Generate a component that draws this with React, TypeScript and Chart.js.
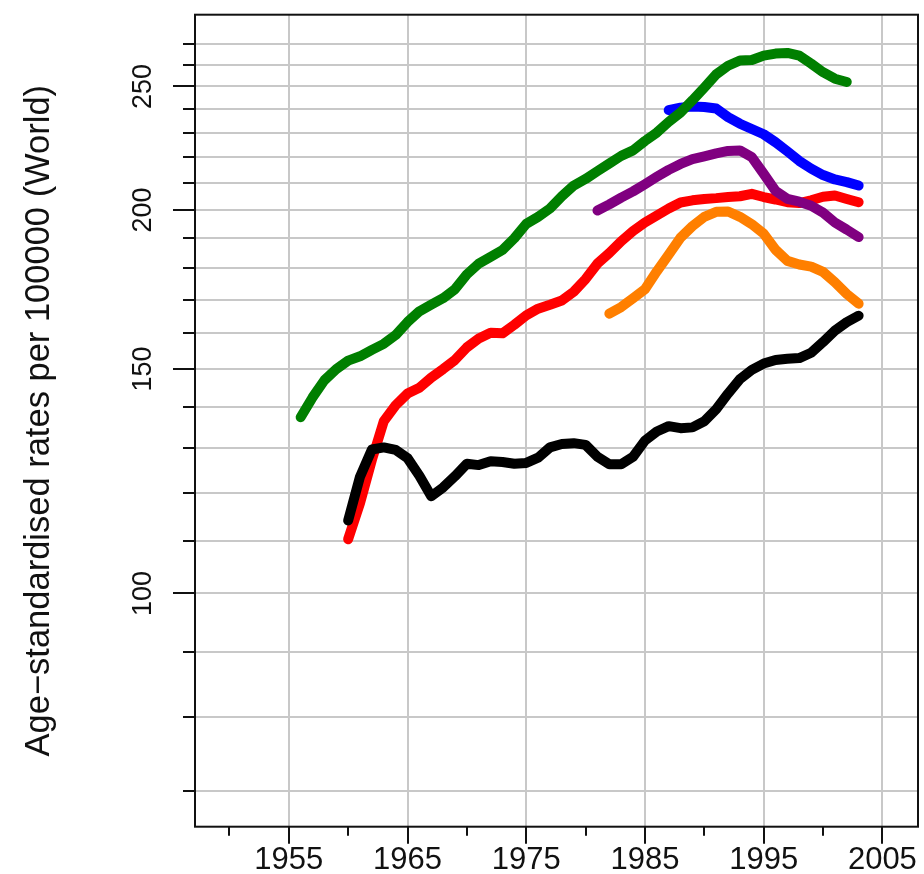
import { useEffect, useRef } from "react";
import { Chart, registerables } from "chart.js";

Chart.register(...registerables);

const years = [
  1956, 1957, 1958, 1959, 1960, 1961, 1962, 1963, 1964, 1965, 1966, 1967,
  1968, 1969, 1970, 1971, 1972, 1973, 1974, 1975, 1976, 1977, 1978, 1979,
  1980, 1981, 1982, 1983, 1984, 1985, 1986, 1987, 1988, 1989, 1990, 1991,
  1992, 1993, 1994, 1995, 1996, 1997, 1998, 1999, 2000, 2001, 2002, 2003,
];

const greenSeries = [
  137.5, 142.5, 147, 150, 152.3, 153.5, 155.3, 157, 159.5, 163.3, 166.5, 168.5,
  170.5, 173.3, 178, 181.5, 183.7, 186, 190, 195, 197.5, 200.5, 205, 209,
  211.5, 214.5, 217.5, 220.5, 222.7, 226.5, 230, 234.5, 238.5, 243.8, 249.5, 255.5,
  259.5, 262, 262.2, 264.3, 265.3, 265.6, 264.3, 260.5, 256.5, 253.5, 252, null,
];

const redSeries = [
  null, null, null, null, 110.3, 117.7, 127.3, 136.5, 140.5, 143.5, 145, 147.7,
  150, 152.5, 156, 158.5, 160.2, 160, 162.5, 165.3, 167.3, 168.5, 169.8, 172.5,
  176.5, 181.5, 185, 189, 192.5, 195.5, 198, 200.5, 202.7, 203.5, 204, 204.3,
  204.7, 205, 205.9, 204.7, 203.8, 202.8, 202.5, 203.5, 204.8, 205.3, 204, 202.8,
];

const blackSeries = [
  null, null, null, null, 114.1, 123.5, 129.7, 130.2, 129.6, 127.7, 123.7, 119.2,
  121.1, 123.6, 126.4, 126.1, 127, 126.8, 126.4, 126.6, 127.8, 130.2, 131, 131.2,
  130.8, 128, 126.3, 126.3, 128, 131.8, 134, 135.3, 134.8, 135, 136.5, 139.5,
  143.5, 147.3, 149.8, 151.5, 152.5, 152.8, 153, 154.5, 157.5, 160.8, 163.3, 165.2,
];

const blueSeries = [
  null, null, null, null, null, null, null, null, null, null, null, null,
  null, null, null, null, null, null, null, null, null, null, null, null,
  null, null, null, null, null, null, null, 239.5, 240.6, 241.1, 240.9, 240.2,
  236.5, 233.7, 231.5, 229.3, 226, 222.3, 218.5, 215.5, 213, 211.3, 210.3, 209,
];

const purpleSeries = [
  null, null, null, null, null, null, null, null, null, null, null, null,
  null, null, null, null, null, null, null, null, null, null, null, null,
  null, 199.8, 202, 204.5, 206.8, 209.5, 212.3, 215, 217.3, 219.2, 220.3, 221.5,
  222.5, 222.7, 220, 213.5, 207, 204, 203, 201.5, 199, 195.5, 193, 190.4,
];

const orangeSeries = [
  null, null, null, null, null, null, null, null, null, null, null, null,
  null, null, null, null, null, null, null, null, null, null, null, null,
  null, null, 165.8, 167.8, 170.5, 173.3, 179, 184.5, 190.2, 194.2, 197.5, 199.3,
  199.4, 197.5, 194.9, 191.6, 186.1, 182.4, 181.2, 180.5, 178.8, 175.5, 171.8, 168.8,
];

const xMajorTicks = [1955, 1965, 1975, 1985, 1995, 2005];
const xMinorTicks = [1950, 1960, 1970, 1980, 1990, 2000];
const yGridTicks = [70, 80, 90, 100, 110, 120, 130, 140, 150, 160, 170, 180, 190, 200, 210, 220, 230, 240, 250, 260, 270];
const yLabelTicks = [100, 150, 200, 250];
const yTitle = "Age\u2212standardised rates per 100000 (World)";

const FONT = "'Liberation Sans', Arial, Helvetica, sans-serif";

function toPoints(vals: (number | null)[]) {
  const pts: { x: number; y: number }[] = [];
  years.forEach((yr, i) => {
    const v = vals[i];
    if (v !== null && v !== undefined) pts.push({ x: yr, y: v });
  });
  return pts;
}

const framePlugin = {
  id: "frameTicks",
  afterDraw(chart: any) {
    const { ctx, chartArea: a, scales } = chart;
    const xs = scales.x;
    const ys = scales.y;
    ctx.save();
    ctx.strokeStyle = "#111";
    ctx.lineWidth = 2;
    ctx.lineCap = "butt";
    ctx.strokeRect(a.left, a.top, a.right - a.left, a.bottom - a.top);
    ctx.beginPath();
    for (const v of xMajorTicks) {
      const px = Math.round(xs.getPixelForValue(v));
      ctx.moveTo(px, a.bottom);
      ctx.lineTo(px, a.bottom + 17);
    }
    for (const v of xMinorTicks) {
      const px = Math.round(xs.getPixelForValue(v));
      ctx.moveTo(px, a.bottom);
      ctx.lineTo(px, a.bottom + 9);
    }
    for (const v of yGridTicks) {
      const py = Math.round(ys.getPixelForValue(v));
      const len = yLabelTicks.includes(v) ? 22 : 12;
      ctx.moveTo(a.left, py);
      ctx.lineTo(a.left - len, py);
    }
    ctx.stroke();
    ctx.restore();
  },
};

export default function App() {
  const ref = useRef<HTMLCanvasElement | null>(null);

  useEffect(() => {
    const canvas = ref.current;
    if (!canvas) return;
    const lineDs = (label: string, vals: (number | null)[], color: string) => ({
      label,
      data: toPoints(vals),
      borderColor: color,
      backgroundColor: color,
      borderWidth: 10,
      borderCapStyle: "round" as const,
      borderJoinStyle: "round" as const,
      pointRadius: 0,
      tension: 0,
      fill: false,
    });
    const chart = new Chart(canvas, {
      type: "line",
      data: {
        datasets: [
          lineDs("black", blackSeries, "#000000"),
          lineDs("green", greenSeries, "#007f00"),
          lineDs("orange", orangeSeries, "#ff7f00"),
          lineDs("purple", purpleSeries, "#800080"),
          lineDs("blue", blueSeries, "#0000ff"),
          lineDs("red", redSeries, "#ff0000"),
        ],
      },
      options: {
        animation: false,
        responsive: false,
        maintainAspectRatio: false,
        layout: { padding: { top: 14.7, right: 6, left: 0, bottom: 0 } },
        plugins: {
          legend: { display: false },
          tooltip: { enabled: false },
          title: { display: false },
        },
        scales: {
          x: {
            type: "linear",
            min: 1947.1,
            max: 2008,
            afterBuildTicks: (s: any) => {
              s.ticks = xMajorTicks.map((v) => ({ value: v }));
            },
            afterFit: (s: any) => {
              s.height = 47.3;
              s.paddingLeft = 0;
              s.paddingRight = 0;
            },
            grid: { color: "#c8c8c8", lineWidth: 2, drawTicks: false },
            border: { display: false },
            ticks: {
              font: { family: FONT, size: 31 },
              color: "#111",
              padding: 15,
              maxRotation: 0,
              autoSkip: false,
              callback: (v: any) => String(v),
            },
          },
          y: {
            type: "logarithmic",
            min: 65.6,
            max: 284.6,
            afterBuildTicks: (s: any) => {
              s.ticks = yGridTicks.map((v) => ({ value: v }));
            },
            afterFit: (s: any) => {
              s.width = 195;
              s.paddingTop = 0;
              s.paddingBottom = 0;
            },
            grid: { color: "#c8c8c8", lineWidth: 2, drawTicks: false },
            border: { display: false },
            ticks: {
              font: { family: FONT, size: 27 },
              color: "#111",
              minRotation: 90,
              maxRotation: 90,
              crossAlign: "center",
              padding: 29,
              autoSkip: false,
              callback: (v: any) => (yLabelTicks.includes(Number(v)) ? String(v) : ""),
            },
            title: {
              display: true,
              text: yTitle,
              font: { family: FONT, size: 34.5 },
              color: "#111",
              padding: { top: 19, bottom: 0 },
            },
          },
        },
      },
      plugins: [framePlugin],
    });
    return () => chart.destroy();
  }, []);

  return (
    <div style={{ position: "absolute", left: 0, top: 0, width: 924, height: 874, background: "#fff" }}>
      <canvas ref={ref} width={924} height={874} />
    </div>
  );
}
